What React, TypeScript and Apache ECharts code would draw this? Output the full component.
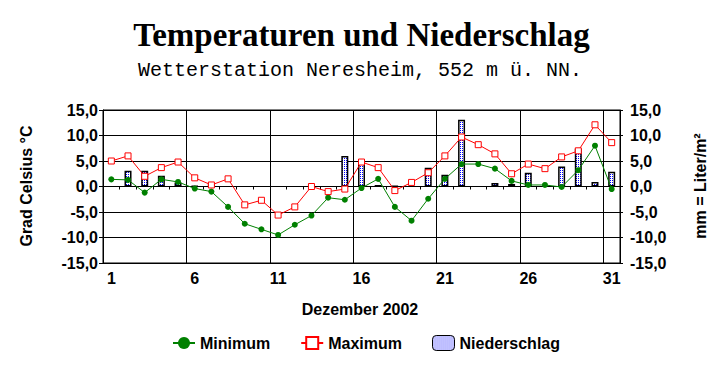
import React, { useEffect, useRef } from "react";
import * as echarts from "echarts";

const days = Array.from({ length: 31 }, (_, i) => String(i + 1));
const minimum = [1.4, 1.3, -1.2, 1.4, 0.9, -0.4, -1.0, -4.0, -7.3, -8.4, -9.5, -7.5, -5.7, -2.2, -2.6, -0.3, 1.5, -4.0, -6.7, -2.4, 1.5, 4.4, 4.4, 3.5, 1.1, 0.3, 0.3, -0.1, 3.2, 8.0, -0.5];
const maximum = [5.0, 6.0, 2.0, 3.7, 4.8, 1.7, 0.3, 1.5, -3.6, -2.7, -5.6, -4.0, 0.0, -1.0, -0.5, 4.8, 3.7, -0.8, 0.8, 2.7, 6.0, 9.7, 8.2, 6.4, 2.5, 4.4, 3.5, 5.8, 7.0, 12.1, 8.6];
const niederschlag = [null, 3.1, 3.1, 2.1, 0.8, 0.1, 0.6, null, null, null, null, null, null, null, 6.0, 5.2, 0.3, 0.1, null, 3.7, 2.3, 13.1, null, 0.7, 0.5, 2.7, null, 3.9, 7.4, 0.9, 2.9];
const yTicks = { min: -15, max: 15, interval: 5 };

const SANS = "'Liberation Sans', Arial, sans-serif";

function makePattern() {
  const c = document.createElement("canvas");
  c.width = 2;
  c.height = 2;
  const ctx = c.getContext("2d")!;
  ctx.fillStyle = "#ffffff";
  ctx.fillRect(0, 0, 2, 2);
  ctx.fillStyle = "#0000ff";
  ctx.fillRect(0, 0, 1, 1);
  return { image: c.toDataURL(), repeat: "repeat", imageWidth: 2, imageHeight: 2 } as any;
}

export default function App() {
  const ref = useRef<HTMLDivElement>(null);
  useEffect(() => {
    if (!ref.current) return;
    const chart = echarts.init(ref.current, null, { renderer: "svg" });
    const pattern = makePattern();
    const fmt = (v: number) => v.toFixed(1).replace(".", ",");
    chart.setOption({
      animation: false,
      backgroundColor: "#ffffff",
      grid: { left: 103, right: 103, top: 110, bottom: 105, show: true, borderColor: "#000", borderWidth: 1, containLabel: false },
      graphic: [
        { type: "text", left: "center", top: 18, style: { text: "Temperaturen und Niederschlag", font: "bold 33px 'Liberation Serif', 'Times New Roman', serif", fill: "#000" } },
        { type: "text", x: 360, y: 70, style: { text: "Wetterstation Neresheim, 552 m ü. NN.", font: "20px 'Liberation Mono', 'Courier New', monospace", fill: "#000", align: "center", verticalAlign: "middle" } },
        { type: "text", x: 360, y: 309, style: { text: "Dezember 2002", font: `bold 16px ${SANS}`, fill: "#000", align: "center", verticalAlign: "middle" } },
        { type: "text", x: 26, y: 186, rotation: Math.PI / 2, style: { text: "Grad Celsius °C", font: `bold 16px ${SANS}`, fill: "#000", align: "center", verticalAlign: "middle" } },
        { type: "text", x: 700, y: 186, rotation: Math.PI / 2, style: { text: "mm = Liter/m²", font: `bold 16px ${SANS}`, fill: "#000", align: "center", verticalAlign: "middle" } },
      ],
      legend: {
        left: 167,
        top: 330,
        itemWidth: 22,
        itemHeight: 15,
        itemGap: 30,
        textStyle: { fontFamily: SANS, fontSize: 16, fontWeight: "bold", color: "#000" },
        data: [
          "Minimum",
          "Maximum",
          { name: "Niederschlag", itemStyle: { color: pattern, borderColor: "#000", borderWidth: 1 } },
        ],
      },
      xAxis: [
        {
          type: "category",
          data: days,
          position: "bottom",
          boundaryGap: true,
          axisLine: { onZero: false, lineStyle: { color: "#000", width: 1 } },
          axisTick: { show: false },
          axisLabel: { interval: 4, color: "#000", fontFamily: SANS, fontSize: 16, fontWeight: "bold", margin: 7 },
          splitLine: { show: true, interval: (i: number) => i > 0 && i % 5 === 0, lineStyle: { color: "#000", width: 1 } },
        },
        {
          type: "category",
          data: days,
          position: "top",
          boundaryGap: true,
          axisLine: { onZero: true, onZeroAxisIndex: 0, lineStyle: { color: "#000", width: 1 } },
          axisTick: { show: true, interval: 0, inside: true, length: 3, lineStyle: { color: "#000" } },
          axisLabel: { show: false },
          splitLine: { show: false },
        },
      ],
      yAxis: [
        {
          type: "value",
          position: "left",
          ...yTicks,
          axisLine: { show: true, lineStyle: { color: "#000" } },
          axisTick: { show: true, length: 4, lineStyle: { color: "#000" } },
          axisLabel: { color: "#000", fontFamily: SANS, fontSize: 16, fontWeight: "bold", margin: 5, formatter: fmt },
          splitLine: { show: true, lineStyle: { color: "#000", width: 1 } },
        },
        {
          type: "value",
          position: "right",
          ...yTicks,
          axisLine: { show: true, lineStyle: { color: "#000" } },
          axisTick: { show: true, length: 3, lineStyle: { color: "#000" } },
          axisLabel: { color: "#000", fontFamily: SANS, fontSize: 16, fontWeight: "bold", margin: 10, formatter: fmt },
          splitLine: { show: false },
        },
      ],
      series: [
        {
          name: "Minimum",
          type: "line",
          xAxisIndex: 0,
          yAxisIndex: 0,
          data: minimum,
          symbol: "circle",
          symbolSize: 6,
          z: 3,
          itemStyle: { color: "#008000" },
          lineStyle: { color: "#008000", width: 1 },
        },
        {
          name: "Maximum",
          type: "line",
          xAxisIndex: 0,
          yAxisIndex: 0,
          data: maximum,
          symbol: "rect",
          symbolSize: 6,
          z: 3,
          itemStyle: { color: "#ffffff", borderColor: "#ff0000", borderWidth: 1 },
          lineStyle: { color: "#ff0000", width: 1 },
        },
        {
          name: "Niederschlag",
          type: "bar",
          xAxisIndex: 0,
          yAxisIndex: 1,
          data: niederschlag,
          barWidth: 7,
          z: 1,
          itemStyle: { color: pattern, borderColor: "#000", borderWidth: 1.5 },
        },
      ],
    });
    return () => chart.dispose();
  }, []);
  return <div ref={ref} style={{ width: 723, height: 368, position: "absolute", left: 0, top: 0 }} />;
}
